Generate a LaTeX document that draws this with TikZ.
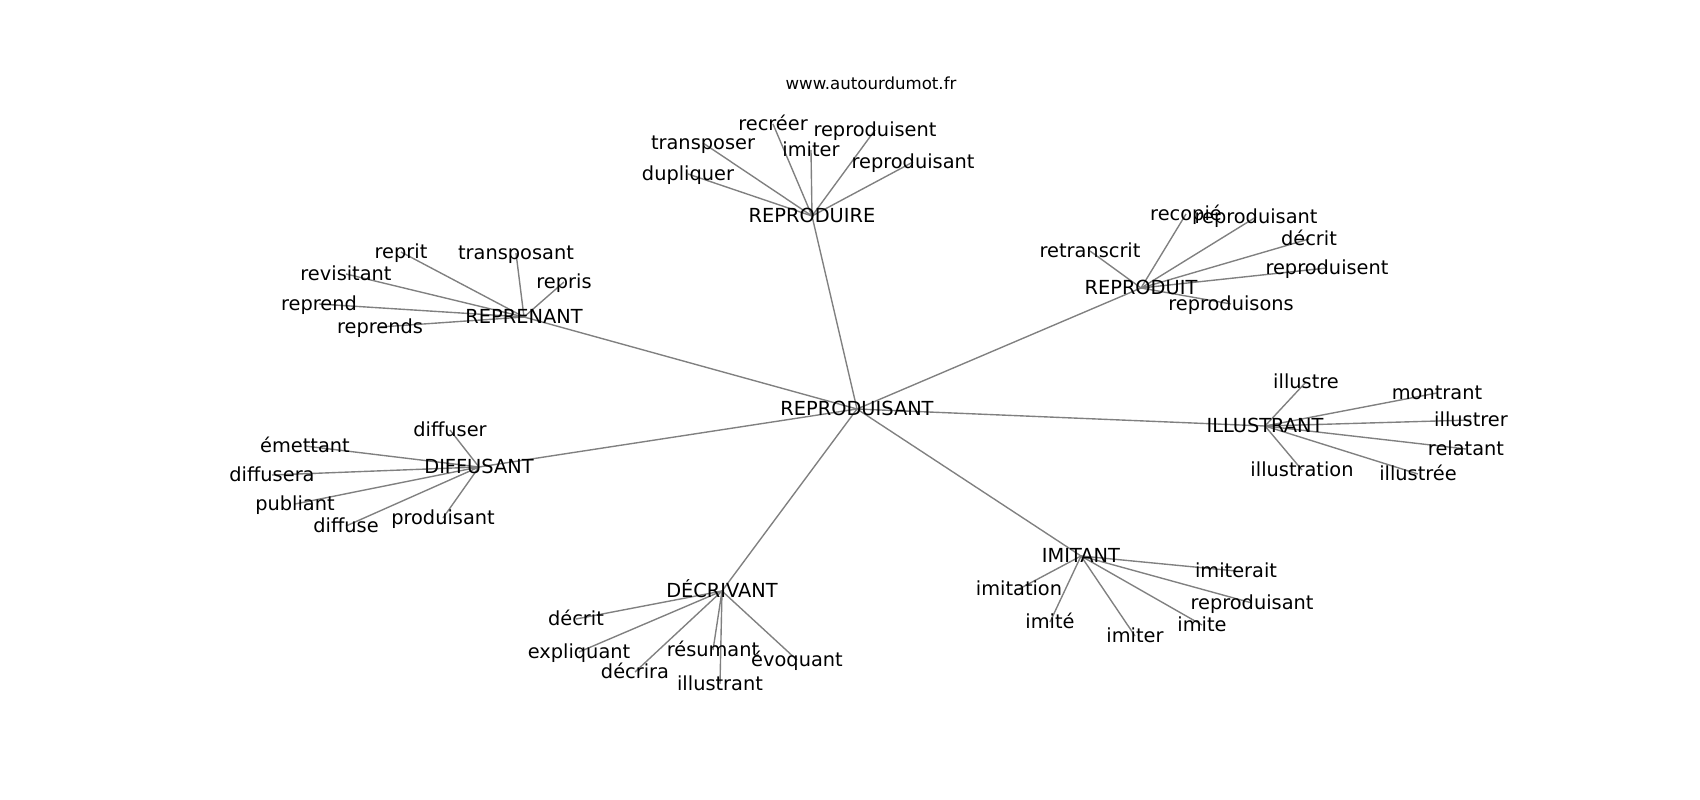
\documentclass[tikz,border=0pt]{standalone}
\usepackage{fontspec}
\setmainfont{DejaVu Sans}
\pgfdeclarelayer{bg}
\pgfsetlayers{bg,main}
\tikzset{
  lbl/.style={inner sep=0pt, outer sep=0pt, anchor=center, text=black,
    font=\fontsize{14}{17}\selectfont, text height=13pt, text depth=3.3pt},
  ttl/.style={inner sep=0pt, outer sep=0pt, anchor=center, text=black,
    font=\fontsize{12}{14}\selectfont, text height=9.1pt, text depth=2.8pt},
  edge/.style={draw=gray, line width=1pt}
}
\begin{document}
\begin{tikzpicture}[x=0.254mm, y=-0.254mm]
\useasboundingbox (0,0) rectangle (1700,800);
\node[ttl] (title) at (871,85) {www.autourdumot.fr};
% center
\node[lbl] (c) at (857,409) {REPRODUISANT};
% hubs
\node[lbl] (h1) at (812,216) {REPRODUIRE};
\node[lbl] (h2) at (1141,288) {REPRODUIT};
\node[lbl] (h3) at (524,317) {REPRENANT};
\node[lbl] (h4) at (1265,426) {ILLUSTRANT};
\node[lbl] (h5) at (479,467) {DIFFUSANT};
\node[lbl] (h6) at (722,591) {DÉCRIVANT};
\node[lbl] (h7) at (1081,556) {IMITANT};
% REPRODUIRE leaves
\node[lbl] (a1) at (688,174) {dupliquer};
\node[lbl] (a2) at (703,143) {transposer};
\node[lbl] (a3) at (773,124) {recréer};
\node[lbl] (a4) at (811,150) {imiter};
\node[lbl] (a5) at (875,130) {reproduisent};
\node[lbl] (a6) at (913,162) {reproduisant};
% REPRODUIT leaves
\node[lbl] (b1) at (1186,214) {recopié};
\node[lbl] (b2) at (1256,217) {reproduisant};
\node[lbl] (b3) at (1309,239) {décrit};
\node[lbl] (b4) at (1327,268) {reproduisent};
\node[lbl] (b5) at (1090,251) {retranscrit};
\node[lbl] (b6) at (1231,304) {reproduisons};
% REPRENANT leaves
\node[lbl] (r1) at (401,252) {reprit};
\node[lbl] (r2) at (516,253) {transposant};
\node[lbl] (r3) at (346,274) {revisitant};
\node[lbl] (r4) at (564,282) {repris};
\node[lbl] (r5) at (319,304) {reprend};
\node[lbl] (r6) at (380,327) {reprends};
% ILLUSTRANT leaves
\node[lbl] (i1) at (1306,382) {illustre};
\node[lbl] (i2) at (1437,393) {montrant};
\node[lbl] (i3) at (1471,420) {illustrer};
\node[lbl] (i4) at (1466,449) {relatant};
\node[lbl] (i5) at (1302,470) {illustration};
\node[lbl] (i6) at (1418,474) {illustrée};
% DIFFUSANT leaves
\node[lbl] (d1) at (450,430) {diffuser};
\node[lbl] (d2) at (305,446) {émettant};
\node[lbl] (d3) at (272,475) {diffusera};
\node[lbl] (d4) at (295,504) {publiant};
\node[lbl] (d5) at (346,526) {diffuse};
\node[lbl] (d6) at (443,518) {produisant};
% DÉCRIVANT leaves
\node[lbl] (e1) at (576,619) {décrit};
\node[lbl] (e2) at (579,652) {expliquant};
\node[lbl] (e3) at (635,672) {décrira};
\node[lbl] (e4) at (713,650) {résumant};
\node[lbl] (e5) at (720,684) {illustrant};
\node[lbl] (e6) at (797,660) {évoquant};
% IMITANT leaves
\node[lbl] (m1) at (1019,589) {imitation};
\node[lbl] (m2) at (1050,622) {imité};
\node[lbl] (m3) at (1135,636) {imiter};
\node[lbl] (m4) at (1202,625) {imite};
\node[lbl] (m5) at (1252,603) {reproduisant};
\node[lbl] (m6) at (1236,571) {imiterait};
\begin{pgfonlayer}{bg}
\foreach \h in {h1,h2,h3,h4,h5,h6,h7}
  \draw[edge] (c.center) -- (\h.center);
\foreach \l in {a1,a2,a3,a4,a5,a6}
  \draw[edge] (h1.center) -- (\l.center);
\foreach \l in {b1,b2,b3,b4,b5,b6}
  \draw[edge] (h2.center) -- (\l.center);
\foreach \l in {r1,r2,r3,r4,r5,r6}
  \draw[edge] (h3.center) -- (\l.center);
\foreach \l in {i1,i2,i3,i4,i5,i6}
  \draw[edge] (h4.center) -- (\l.center);
\foreach \l in {d1,d2,d3,d4,d5,d6}
  \draw[edge] (h5.center) -- (\l.center);
\foreach \l in {e1,e2,e3,e4,e5,e6}
  \draw[edge] (h6.center) -- (\l.center);
\foreach \l in {m1,m2,m3,m4,m5,m6}
  \draw[edge] (h7.center) -- (\l.center);
\end{pgfonlayer}
\end{tikzpicture}
\end{document}
